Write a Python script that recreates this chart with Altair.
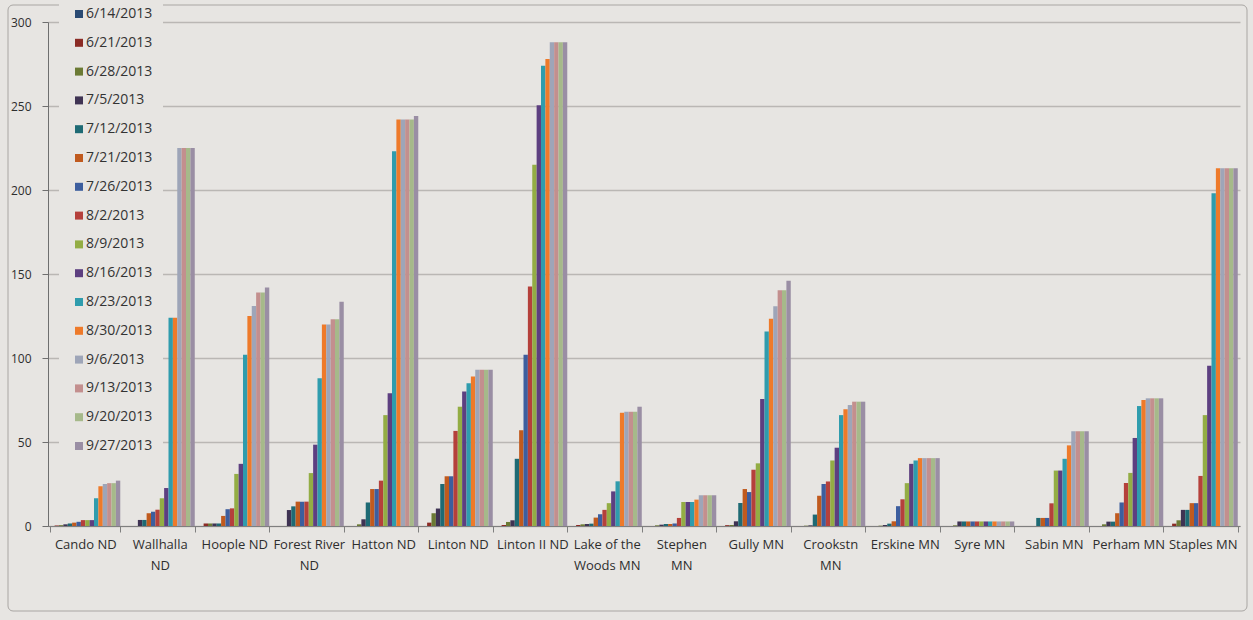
import altair as alt
import pandas as pd

dates = ["6/14/2013", "6/21/2013", "6/28/2013", "7/5/2013", "7/12/2013", "7/21/2013",
         "7/26/2013", "8/2/2013", "8/9/2013", "8/16/2013", "8/23/2013", "8/30/2013",
         "9/6/2013", "9/13/2013", "9/20/2013", "9/27/2013"]

colors = ["#2a4a73", "#8b2b25", "#6b7a34", "#3f3353", "#1e6a74", "#c05a1e",
          "#3d5e9e", "#b5403b", "#93ad44", "#5d3f80", "#2f9cad", "#ee7a2a",
          "#9ea5b8", "#c38f8e", "#a6b98a", "#9a8ea4"]

sites = ["Cando ND", "Wallhalla ND", "Hoople ND", "Forest River ND", "Hatton ND",
         "Linton ND", "Linton II ND", "Lake of the Woods MN", "Stephen MN", "Gully MN",
         "Crookstn MN", "Erskine MN", "Syre MN", "Sabin MN", "Perham MN", "Staples MN"]

# line breaks used for the category labels
label_lines = {
    "Wallhalla ND": ["Wallhalla", "ND"],
    "Forest River ND": ["Forest River", "ND"],
    "Lake of the Woods MN": ["Lake of the", "Woods MN"],
    "Stephen MN": ["Stephen", "MN"],
    "Crookstn MN": ["Crookstn", "MN"],
}

cando = [0, 0.3, 0.5, 1, 1.5, 2, 2.5, 3.5, 3.5, 3.5, 16.5, 23.6, 25, 25.5, 25.5, 27]
wallhalla = [0, 0, 0, 3.6, 3.6, 7.6, 8.5, 9.7, 16.5, 22.6, 124, 124, 225, 225, 225, 225]
hoople = [0, 1.5, 1.5, 1.5, 1.5, 6, 10, 10.5, 31, 37, 102, 125, 131, 139, 139, 142]
forest_river = [0, 0, 0, 9.5, 11.7, 14.5, 14.5, 14.5, 31.5, 48.4, 88, 120, 120, 123, 123, 133.5]
hatton = [0, 0, 1, 4, 14, 22, 22, 27, 66, 79, 223, 242, 242, 242, 242, 244]
linton = [0, 2, 7.6, 10.4, 25, 29.6, 29.6, 56.6, 71, 80, 85, 89, 93, 93, 93, 93]
linton_ii = [0, 0.6, 2.4, 3.4, 40, 57, 102, 142.6, 215, 250.5, 274, 278, 288, 288, 288, 288]
lake_woods = [0, 0.6, 1, 1.2, 1.4, 5, 7, 9.6, 13.6, 20.6, 26.6, 67.4, 68, 68, 68, 71]
stephen = [0, 0, 0.4, 0.8, 1.2, 1.2, 1.5, 4.8, 14.3, 14.3, 14.3, 15.7, 18.3, 18.3, 18.3, 18.3]
gully = [0, 0.5, 0.6, 2.8, 13.7, 22, 20.2, 33.5, 37.3, 75.6, 115.7, 123.4, 130.8, 140.3, 140.3, 146]
crookstn = [0, 0, 0.2, 0.4, 6.8, 18, 25, 26.5, 39, 46.6, 66, 69.5, 72, 74, 74, 74]
erskine = [0, 0, 0.2, 0.6, 1.4, 2.8, 11.8, 15.9, 25.5, 37, 39, 40.4, 40.4, 40.4, 40.4, 40.4]
syre = [0, 0, 0.4, 2.7, 2.7, 2.7, 2.7, 2.7, 2.7, 2.7, 2.7, 2.7, 2.7, 2.7, 2.7, 2.7]
sabin = [0, 0, 0, 0, 4.8, 4.8, 4.8, 13.5, 33, 33, 40, 48, 56.4, 56.4, 56.4, 56.4]
perham = [0, 0, 1, 2.6, 2.6, 7.6, 14, 25.6, 31.6, 52.4, 71.4, 75, 76, 76, 76, 76]
staples = [0, 1.4, 3.4, 9.6, 9.6, 13.6, 13.6, 29.8, 66, 95.4, 198, 213, 213, 213, 213, 213]

series = [cando, wallhalla, hoople, forest_river, hatton, linton, linton_ii, lake_woods,
          stephen, gully, crookstn, erskine, syre, sabin, perham, staples]

rows = []
for site, vals in zip(sites, series):
    for d, v in zip(dates, vals):
        rows.append({"site": site, "date": d, "value": v})
df = pd.DataFrame(rows)

# build the label expression (multi-line labels)
expr = "datum.value"
for k, parts in label_lines.items():
    arr = "[" + ",".join("'" + p + "'" for p in parts) + "]"
    expr = f"datum.value == '{k}' ? {arr} : ({expr})"

BG = "#e7e5e2"
FONT = "Open Sans"

bars = alt.Chart(df).mark_bar(strokeWidth=0).encode(
    x=alt.X("site:N", sort=sites, title=None,
            scale=alt.Scale(paddingInner=0.06, paddingOuter=0.03),
            axis=alt.Axis(labelAngle=0, tickBand="extent", labelExpr=expr,
                          labelFont=FONT, labelFontSize=13, labelColor="#2e2e2e",
                          labelLineHeight=21, labelPadding=6, labelBaseline="top",
                          tickSize=6, tickColor="#7f7f7f", domainColor="#7f7f7f",
                          labelLimit=200)),
    xOffset=alt.XOffset("date:N", sort=dates, scale=alt.Scale(paddingInner=0, paddingOuter=0)),
    y=alt.Y("value:Q", title=None,
            scale=alt.Scale(domain=[0, 300], nice=False),
            axis=alt.Axis(values=[0, 50, 100, 150, 200, 250, 300], labelFont=FONT,
                          labelFontSize=12, labelColor="#2e2e2e", labelPadding=11,
                          ticks=True, tickSize=6, tickColor="#6f6f6f", tickWidth=1,
                          domainColor="#6f6f6f",
                          gridColor="#bab7b4", gridWidth=1.5)),
    color=alt.Color("date:N", sort=dates,
                    scale=alt.Scale(domain=dates, range=colors),
                    legend=alt.Legend(orient="none", legendX=11, legendY=-25, title=None,
                                      fillColor=BG, padding=10, symbolType="square",
                                      symbolSize=64, symbolStrokeWidth=0, symbolOffset=3,
                                      labelFont=FONT, labelFontSize=14,
                                      labelColor="#333333", labelOffset=0,
                                      rowPadding=14.8, labelLimit=200)),
)

border = alt.Chart(alt.Data(values=[{"a": 1}])).mark_rect(
    fill=None, stroke="#a9a6a3", strokeWidth=1, cornerRadius=5
).encode(
    x=alt.value(-40), x2=alt.value(1199), y=alt.value(-17), y2=alt.value(589)
)

chart = alt.layer(border, bars).properties(
    width=1192, height=504,
    autosize=alt.AutoSizeParams(type="none"),
    padding={"left": 48, "top": 22, "right": 13, "bottom": 94},
    background=BG,
).configure_view(stroke=None)

chart.save("out.html", embed_options={"renderer": "svg", "actions": False})
